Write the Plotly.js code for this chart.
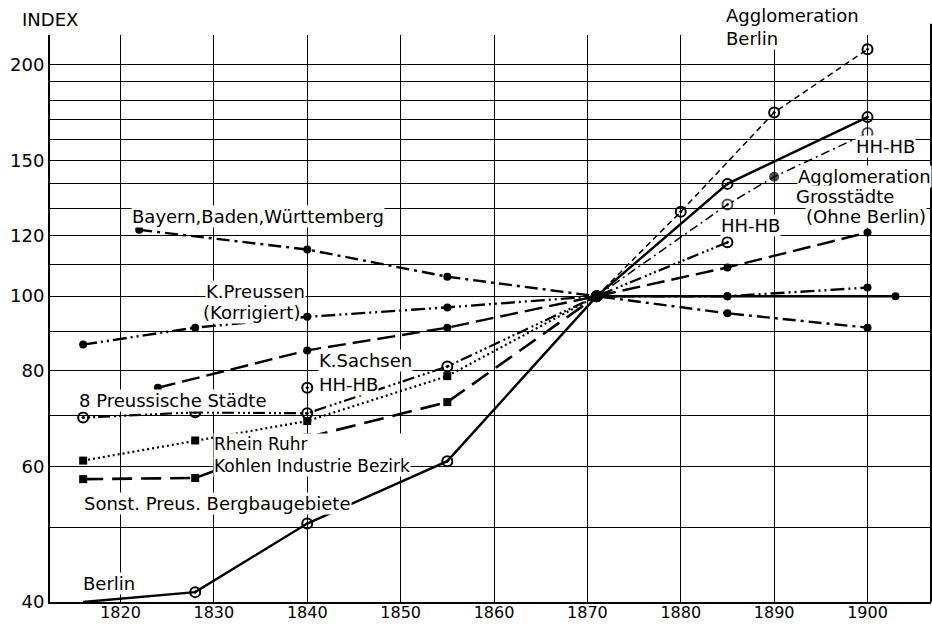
<!DOCTYPE html>
<html>
<head>
<meta charset="utf-8">
<script src="https://cdn.plot.ly/plotly-3.0.1.min.js"></script>
<style>html,body{margin:0;padding:0;background:#fff;}#chart{width:932px;height:625px;}</style>
</head>
<body>
<div id="chart"></div>
<script>
// ---- data (index, 1871 = 100) ----
const xTickVals = [1820,1830,1840,1850,1860,1870,1880,1890,1900];
const xTickText = ['1820','1830','1840','1850','1860','1870','1880','1890','1900'];
const yTickVals = [40,50,60,70,80,90,100,110,120,130,140,150,160,170,180,190,200];
const yTickText = ['40','','60','','80','','100','','120','','','150','','','','','200'];

const berlinYears = [1816,1828,1840,1855,1871,1885,1900];
const berlinIdx   = [40,41.2,50.6,61,100,140,171];

const agglBerlinYears = [1871,1880,1890,1900];
const agglBerlinIdx   = [100,128.8,173.4,209.5];

const grossYears = [1871,1885,1890,1900];
const grossIdx   = [100,131.6,143,163];

const bayernYears = [1822,1840,1855,1871,1885,1900];
const bayernIdx   = [122,115,106,100,95,91];

const preussenYears = [1816,1828,1840,1855,1871,1885,1900];
const preussenIdx   = [86.5,91,94,96.7,100,100,102.6];

const reichYears = [1871,1885,1903];
const reichIdx   = [100,100,100];

const sachsenYears = [1824,1840,1855,1871,1885,1900];
const sachsenIdx   = [76,85,91,100,109,121];

const staedteYears = [1816,1828,1840,1855,1871,1885];
const staedteIdx   = [69.5,70.6,70.4,81,100,117.5];

const hhhbYears = [1840];
const hhhbIdx   = [76];

const rheinYears = [1816,1828,1840,1855,1871];
const rheinIdx   = [57.8,58,65.5,72.8,100];

const bergbauYears = [1816,1828,1840,1855,1871];
const bergbauIdx   = [61.1,64.9,68.8,78.7,100];

// ---- traces ----
const K = '#000';
function tr(name, x, y, dash, width, marker) {
  return {type:'scatter', mode:'lines+markers', name:name, x:x, y:y, cliponaxis:false,
    line:{color:K, width:width, dash:dash}, marker:marker, hoverinfo:'x+y+name'};
}
const dot = {symbol:'circle', size:8, color:K};
const ring = {symbol:'circle-open-dot', size:10, color:K, line:{width:2, color:K}};
const sq = {symbol:'square', size:8, color:K};

const traces = [
  tr('Berlin', berlinYears, berlinIdx, 'solid', 2.4, ring),
  tr('Agglomeration Berlin', agglBerlinYears, agglBerlinIdx, '6px,4px', 1.5, ring),
  tr('Agglomeration Grosstädte (Ohne Berlin)', grossYears, grossIdx, '9px,4px,2px,4px', 1.5,
     {symbol:['circle','circle-open-dot','circle','circle-open'], size:[0,10,8,10], color:K, line:{width:2,color:K}}),
  tr('Bayern, Baden, Württemberg', bayernYears, bayernIdx, '13px,5px,3px,5px', 2.4, dot),
  tr('K. Preussen (Korrigiert)', preussenYears, preussenIdx, '14px,4px,2px,4px,2px,4px', 2.4, dot),
  tr('Index 1871 = 100', reichYears, reichIdx, 'solid', 2.4, dot),
  tr('K. Sachsen', sachsenYears, sachsenIdx, '18px,7px', 2.4, dot),
  tr('8 Preussische Städte', staedteYears, staedteIdx, '2px,3px,2px,3px,2px,3px,12px,4px', 2.2, ring),
  {type:'scatter', mode:'markers', name:'HH-HB', x:hhhbYears, y:hhhbIdx, cliponaxis:false, marker:ring},
  tr('Rhein Ruhr Kohlen Industrie Bezirk', rheinYears, rheinIdx, '20px,9px', 2.6, sq),
  tr('Sonst. Preus. Bergbaugebiete', bergbauYears, bergbauIdx, '2px,3px', 2.2, sq)
];

// ---- labels ----
const F = 'DejaVu Sans, sans-serif';
const FS = 18;
function lab(text, x, y, size) {
  return {text:text, x:x, y:Math.log10(y), xref:'x', yref:'y', xanchor:'left', yanchor:'middle', align:'left',
    showarrow:false, bgcolor:'#fff', borderpad:0, font:{family:F, size:size || FS, color:K}};
}
function plab(text, px, py) {
  // label given by its left edge / middle in pixels of the 932x625 page
  return {text:text, x:(px-50)/881, y:1-(py-35)/567, xref:'paper', yref:'paper', xanchor:'left', yanchor:'middle',
    showarrow:false, bgcolor:'#fff', borderpad:0, font:{family:F, size:FS, color:K}};
}
const annotations = [
  plab('INDEX', 21, 20),
  lab('Bayern,Baden,Württemberg', 1821.1, 127),
  lab('K.Preussen', 1829.0, 101.4),
  lab('(Korrigiert)', 1828.7, 95.3),
  lab('K.Sachsen', 1841.2, 82.5),
  lab('HH-HB', 1841.2, 76.8),
  lab('8 Preussische Städte', 1815.5, 73.2),
  lab('Rhein Ruhr<br>Kohlen Industrie Bezirk', 1829.9, 62.2, 17),
  lab('Sonst. Preus. Bergbaugebiete', 1816.0, 53.7),
  lab('Berlin', 1815.9, 42.3),
  plab('Agglomeration', 725, 16),
  plab('Berlin', 725, 38),
  lab('HH-HB', 1898.7, 156.6),
  lab('Agglomeration', 1892.4, 143.3),
  lab('Grosstädte', 1892.2, 135),
  lab('(Ohne Berlin)', 1893.3, 127.1),
  lab('HH-HB', 1884.2, 123.6)
];

const layout = {
  width:932, height:625,
  margin:{l:50, r:1, t:35, b:23, pad:0},
  paper_bgcolor:'#fff', plot_bgcolor:'#fff',
  showlegend:false,
  font:{family:F, color:K},
  xaxis:{range:[1812.45,1906.8], tickmode:'array', tickvals:xTickVals, ticktext:xTickText,
    showgrid:true, gridcolor:K, gridwidth:1, zeroline:false, showline:true, linecolor:K, linewidth:2,
    ticks:'', ticklabelstandoff:-5, tickfont:{family:F, size:16, color:K}},
  yaxis:{type:'log', range:[Math.log10(40), Math.log10(218.7)], tickmode:'array', tickvals:yTickVals, ticktext:yTickText,
    showgrid:true, gridcolor:K, gridwidth:1, zeroline:false, showline:true, linecolor:K, linewidth:2,
    ticks:'', tickfont:{family:F, size:18, color:K}},
  shapes:[{type:'line', xref:'paper', yref:'paper', x0:1, x1:1, y0:0, y1:1.02, line:{color:K, width:2}}],
  annotations:annotations
};

Plotly.newPlot('chart', traces, layout, {displayModeBar:false, staticPlot:true});
</script>
</body>
</html>
